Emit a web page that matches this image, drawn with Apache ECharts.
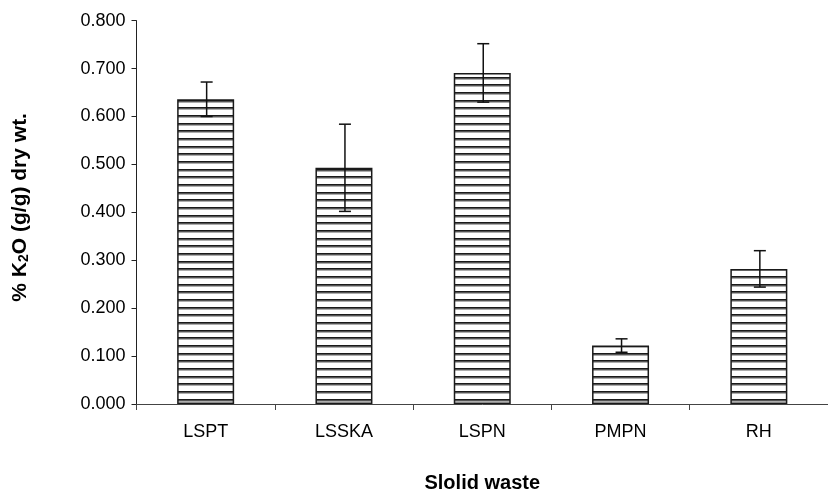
<!DOCTYPE html>
<html>
<head>
<meta charset="utf-8">
<script src="https://cdn.jsdelivr.net/npm/echarts@6/dist/echarts.min.js"></script>
<style>
  html, body { margin: 0; padding: 0; background: #fff; }
  #chart { width: 828px; height: 498px; }
</style>
</head>
<body>
<div id="chart"></div>
<script>
// Potassium content of each solid waste, with standard-error bars
const categories = ['LSPT', 'LSSKA', 'LSPN', 'PMPN', 'RH'];
const potassium = [0.636, 0.493, 0.691, 0.122, 0.282];
const errors = [0.036, 0.091, 0.061, 0.014, 0.038];
const yTicks = { min: 0, max: 0.8, step: 0.1 };

const FONT = 'Liberation Sans, Arial, sans-serif';

// Horizontal hatch tile used as the bar fill
function hatchTile() {
  const c = document.createElement('canvas');
  c.width = 8; c.height = 23;
  const g = c.getContext('2d');
  g.fillStyle = '#ffffff';
  g.fillRect(0, 0, 8, 23);
  [0, 8, 15].forEach(function (y) {
    g.fillStyle = '#1a1a1a';
    g.fillRect(0, y, 8, 1.8);
    g.fillStyle = '#8a8a8a';
    g.fillRect(0, y + 1.8, 8, 0.9);
  });
  return c;
}

const chart = echarts.init(document.getElementById('chart'), null, { renderer: 'canvas' });

const errorData = categories.map(function (c, i) {
  return [i, potassium[i] - errors[i], potassium[i] + errors[i]];
});

chart.setOption({
  backgroundColor: '#ffffff',
  animation: false,
  grid: { left: 136.5, top: 20.7, width: 702.5, height: 386, containLabel: false },
  xAxis: {
    type: 'category',
    data: categories,
    name: 'Slolid waste',
    nameLocation: 'middle',
    nameGap: 69,
    nameTextStyle: { fontFamily: FONT, fontWeight: 'bold', fontSize: 20, color: '#000' },
    axisLine: { lineStyle: { color: '#444', width: 1 } },
    axisTick: { show: true, length: 6, lineStyle: { color: '#444' } },
    axisLabel: { margin: 19, fontFamily: FONT, fontSize: 18, color: '#000' }
  },
  yAxis: {
    type: 'value',
    min: yTicks.min,
    max: yTicks.max,
    interval: yTicks.step,
    name: '{a|% K}{s|2}{a|O (g/g) dry wt.}',
    nameLocation: 'middle',
    nameRotate: 90,
    nameGap: 105,
    nameTextStyle: {
      padding: [0, 0, 0, 10],
      rich: {
        a: { fontFamily: FONT, fontWeight: 'bold', fontSize: 21, color: '#000' },
        s: { fontFamily: FONT, fontWeight: 'bold', fontSize: 14, color: '#000', verticalAlign: 'bottom', padding: [9, 0, 0, 0] }
      }
    },
    axisLine: { show: true, lineStyle: { color: '#222', width: 1 } },
    axisTick: { show: true, length: 5, lineStyle: { color: '#222' } },
    splitLine: { show: false },
    axisLabel: {
      margin: 11,
      fontFamily: FONT,
      fontSize: 18,
      color: '#000',
      formatter: function (v) { return v.toFixed(3); }
    }
  },
  series: [
    {
      type: 'bar',
      data: potassium,
      barWidth: 57,
      itemStyle: {
        color: { image: hatchTile(), repeat: 'repeat' },
        borderColor: '#1a1a1a',
        borderWidth: 1.5
      }
    },
    {
      type: 'custom',
      data: errorData,
      z: 5,
      renderItem: function (params, api) {
        const x = api.value(0);
        const lo = api.coord([x, api.value(1)]);
        const hi = api.coord([x, api.value(2)]);
        const cx = lo[0] + 1;
        const half = 6;
        const st = { stroke: '#111', lineWidth: 1.5 };
        return {
          type: 'group',
          children: [
            { type: 'line', shape: { x1: cx, y1: lo[1], x2: cx, y2: hi[1] }, style: st },
            { type: 'line', shape: { x1: cx - half, y1: lo[1], x2: cx + half, y2: lo[1] }, style: st },
            { type: 'line', shape: { x1: cx - half, y1: hi[1], x2: cx + half, y2: hi[1] }, style: st }
          ]
        };
      }
    }
  ]
});
</script>
</body>
</html>
